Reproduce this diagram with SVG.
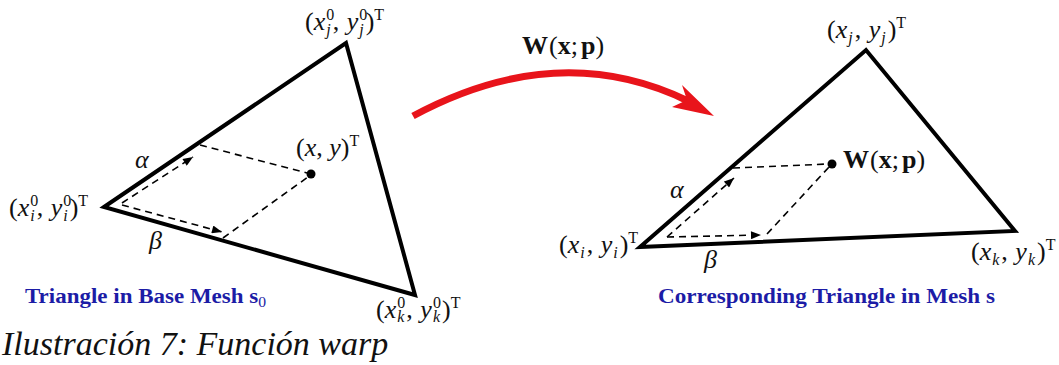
<svg xmlns="http://www.w3.org/2000/svg" width="1059" height="365" viewBox="0 0 1059 365">
<defs>
<style>
.tri{fill:none;stroke:#000;stroke-width:4;stroke-linejoin:miter}
.dash{fill:none;stroke:#000;stroke-width:1.6;stroke-dasharray:7 5}
.lab{font-family:"Liberation Serif",serif;font-size:26px;fill:#111}
.it{font-style:italic}
.s{font-size:16px}
.bf{font-weight:bold}
.title{font-family:"Liberation Serif",serif;font-size:22px;font-weight:bold;fill:#1c1ca6}
.cap{font-family:"Liberation Serif",serif;font-size:34px;font-style:italic;fill:#111}
</style>
<marker id="ah" viewBox="0 0 10 8" refX="10" refY="4" markerWidth="11" markerHeight="8" markerUnits="userSpaceOnUse" orient="auto">
<path d="M0,0 L10,4 L0,8 Z" fill="#000"/>
</marker>
</defs>

<g id="base-triangle">
<polygon class="tri" points="104,207 346,43 415,295"/>
</g>
<g id="base-point">
<circle cx="311" cy="174" r="4.5" fill="#000"/>
</g>
<g id="target-triangle">
<polygon class="tri" points="640,247 866,50 1015,231"/>
</g>
<g id="target-point">
<circle cx="832" cy="164" r="4.5" fill="#000"/>
</g>

<g id="connectors">
<line class="dash" x1="200" y1="145" x2="307" y2="173"/>
<line class="dash" x1="223" y1="238" x2="308" y2="177"/>
<line class="dash" x1="122" y1="203" x2="193" y2="157" marker-end="url(#ah)"/>
<line class="dash" x1="122" y1="205" x2="222" y2="232" marker-end="url(#ah)"/>
<line class="dash" x1="733" y1="168" x2="828" y2="164"/>
<line class="dash" x1="767" y1="234" x2="829" y2="167"/>
<line class="dash" x1="667" y1="237" x2="734" y2="178" marker-end="url(#ah)"/>
<line class="dash" x1="667" y1="237" x2="761" y2="235" marker-end="url(#ah)"/>
<path d="M413,116 Q558,38 688,101" fill="none" stroke="#e8141b" stroke-width="7"/>
<polygon points="714,116 682,85 687,100 672,107" fill="#e8141b"/>
</g>

<g id="labels">
<text class="lab" x="305" y="30">(<tspan class="it">x</tspan><tspan class="s" dx="1" dy="-10">0</tspan><tspan class="s it" dx="-8" dy="15">j</tspan><tspan dy="-5" dx="2">, </tspan><tspan class="it" dx="1">y</tspan><tspan class="s" dx="1" dy="-10">0</tspan><tspan class="s it" dx="-8" dy="15">j</tspan><tspan dy="-5" dx="2">)</tspan><tspan class="s" dy="-10">T</tspan></text>
<text class="lab" x="9" y="216">(<tspan class="it">x</tspan><tspan class="s" dx="1" dy="-10">0</tspan><tspan class="s it" dx="-8" dy="15">i</tspan><tspan dy="-5" dx="2">, </tspan><tspan class="it" dx="1">y</tspan><tspan class="s" dx="1" dy="-10">0</tspan><tspan class="s it" dx="-8" dy="15">i</tspan><tspan dy="-5" dx="2">)</tspan><tspan class="s" dy="-10">T</tspan></text>
<text class="lab" x="376" y="318">(<tspan class="it">x</tspan><tspan class="s" dx="1" dy="-10">0</tspan><tspan class="s it" dx="-8" dy="14">k</tspan><tspan dy="-4" dx="2">, </tspan><tspan class="it" dx="1">y</tspan><tspan class="s" dx="1" dy="-10">0</tspan><tspan class="s it" dx="-8" dy="14">k</tspan><tspan dy="-4" dx="2">)</tspan><tspan class="s" dy="-10">T</tspan></text>
<text class="lab" x="296" y="156">(<tspan class="it">x</tspan>, <tspan class="it">y</tspan>)<tspan class="s" dy="-10">T</tspan></text>
<text class="lab it" x="135" y="168">α</text>
<text class="lab it" x="149" y="249">β</text>

<text class="lab" x="827" y="38">(<tspan class="it">x</tspan><tspan class="s it" dx="1" dy="5">j</tspan><tspan dy="-5" dx="2">, </tspan><tspan class="it" dx="1">y</tspan><tspan class="s it" dx="1" dy="5">j</tspan><tspan dy="-5" dx="2">)</tspan><tspan class="s" dy="-10">T</tspan></text>
<text class="lab" x="559" y="253">(<tspan class="it">x</tspan><tspan class="s it" dx="1" dy="5">i</tspan><tspan dy="-5" dx="2">, </tspan><tspan class="it" dx="1">y</tspan><tspan class="s it" dx="1" dy="5">i</tspan><tspan dy="-5" dx="2">)</tspan><tspan class="s" dy="-10">T</tspan></text>
<text class="lab" x="971" y="260">(<tspan class="it">x</tspan><tspan class="s it" dx="1" dy="5">k</tspan><tspan dy="-5" dx="2">, </tspan><tspan class="it" dx="1">y</tspan><tspan class="s it" dx="1" dy="5">k</tspan><tspan dy="-5" dx="2">)</tspan><tspan class="s" dy="-10">T</tspan></text>
<text class="lab" x="843" y="168"><tspan class="bf">W</tspan><tspan dx="1">(</tspan><tspan class="bf">x</tspan>;<tspan class="bf" dx="3">p</tspan>)</text>
<text class="lab it" x="670" y="198">α</text>
<text class="lab it" x="704" y="268">β</text>

<text class="lab" x="522" y="54"><tspan class="bf">W</tspan><tspan dx="1">(</tspan><tspan class="bf">x</tspan>;<tspan class="bf" dx="3">p</tspan>)</text>

<text class="title" x="25" y="303" textLength="241" lengthAdjust="spacingAndGlyphs">Triangle in Base Mesh s<tspan font-size="15" font-weight="normal" dy="4">0</tspan></text>
<text class="title" x="658" y="303" textLength="337" lengthAdjust="spacingAndGlyphs">Corresponding Triangle in Mesh s</text>
</g>

<text class="cap" x="2" y="355">Ilustración 7: Función warp</text>
</svg>
